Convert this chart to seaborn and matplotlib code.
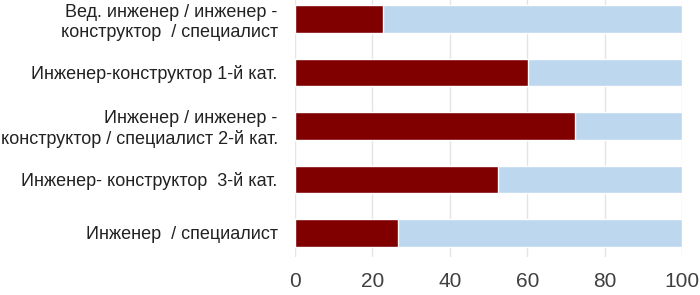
import numpy as np
import pandas as pd
import matplotlib
matplotlib.use("Agg")
import matplotlib.pyplot as plt
import seaborn as sns

# Data
categories = [
    "Вед. инженер / инженер -\nконструктор  / специалист",
    "Инженер-конструктор 1-й кат.",
    "Инженер / инженер -\nконструктор / специалист 2-й кат.",
    "Инженер- конструктор  3-й кат.",
    "Инженер  / специалист",
]
share_red = [22.8, 60.3, 72.4, 52.4, 26.7]
share_blue = [100 - v for v in share_red]

df = pd.DataFrame({"cat": categories, "red": share_red, "blue": share_blue})
df["total"] = df["red"] + df["blue"]

sns.set_theme(style="white")
plt.rcParams["font.family"] = ["Liberation Sans", "DejaVu Sans"]

fig = plt.figure(figsize=(7, 2.95), dpi=100)
ax = fig.add_axes([295 / 700, 1 - 257 / 295, 387 / 700, 257 / 295])

sns.barplot(data=df, y="cat", x="total", color="#BDD7EE", width=0.52,
            saturation=1, orient="h", ax=ax)
sns.barplot(data=df, y="cat", x="red", color="#800000", width=0.52,
            saturation=1, orient="h", ax=ax)

ax.set_xlim(0, 100)
ax.set_ylim(4.45, -0.355)
ax.set_xticks([0, 20, 40, 60, 80, 100])
ax.xaxis.grid(True, color="#E4E4E4", linewidth=1)
ax.set_axisbelow(True)
for s in ax.spines.values():
    s.set_visible(False)
ax.set_xlabel("")
ax.set_ylabel("")
ax.tick_params(axis="x", labelsize=15, colors="#404040", length=0, pad=11)
ax.tick_params(axis="y", labelsize=13, colors="#222222", length=0, pad=12.5)
for lbl in ax.get_yticklabels():
    lbl.set_horizontalalignment("right")
    lbl.set_multialignment("right")

fig.savefig("out.png", dpi=100)
